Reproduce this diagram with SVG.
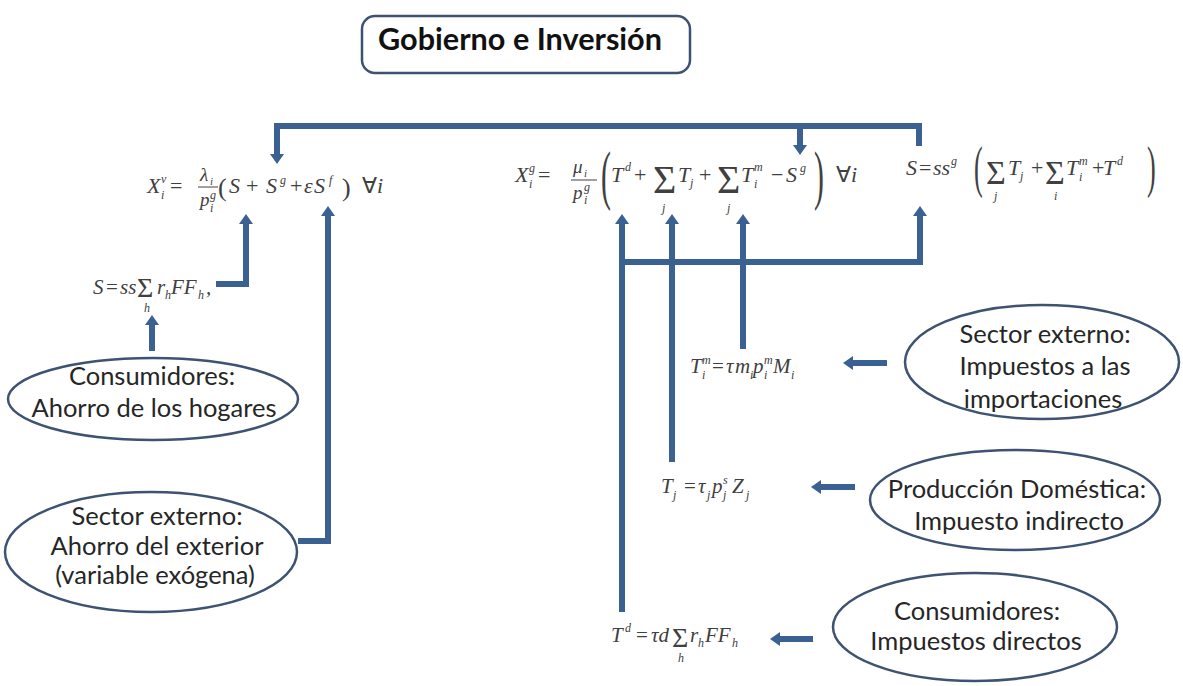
<svg xmlns="http://www.w3.org/2000/svg" width="1183" height="686" viewBox="0 0 1183 686">
<defs>
<style>
.lbl{font-family:Lato,"Liberation Sans",sans-serif;font-size:25.5px;fill:#262626;text-anchor:middle}
.ttl{font-family:Lato,"Liberation Sans",sans-serif;font-size:30px;font-weight:700;fill:#111;text-anchor:middle}
.box{fill:#fff;stroke:#3e5272;stroke-width:2.5}
.ell{fill:#fff;stroke:#3e5272;stroke-width:2.5}
.m{font-family:"Liberation Serif",serif;font-style:italic;font-size:22px;fill:#404040}
.u{font-family:"Liberation Serif",serif;font-size:22px;fill:#404040}
.f21 .m,.f21 .u{font-size:21px}
.m.s,.u.s{font-size:12px}
.m.n{font-size:19px}
.m.t{font-size:11px}
.sg{font-size:40px !important}
.sm{font-size:34px !important}
.sh{font-size:28px !important}
.pb{font-size:66px !important}
.pm{font-size:58px !important}
.p24{font-size:26px !important}
.c{fill:none;stroke:#3a6192;stroke-width:6}
.bar{stroke:#404040;stroke-width:1}
</style>
<marker id="ah" markerUnits="userSpaceOnUse" markerWidth="10" markerHeight="14" viewBox="0 0 10 14" refX="1" refY="7" orient="auto"><path d="M0,0 L10,7 L0,14 z" fill="#3a6192"/></marker>
</defs>
<rect width="1183" height="686" fill="#fff"/>

<g id="connectors">
<path class="c" d="M919,146 V126 H277 V155" marker-end="url(#ah)"/>
<path class="c" d="M800,126 V146" marker-end="url(#ah)"/>
<path class="c" d="M622,612 V223" marker-end="url(#ah)"/>
<path class="c" d="M622,262 H920 V215" marker-end="url(#ah)"/>
<path class="c" d="M672,462 V223" marker-end="url(#ah)"/>
<path class="c" d="M743,349 V223" marker-end="url(#ah)"/>
<path class="c" d="M216,284 H246 V223" marker-end="url(#ah)"/>
<path class="c" d="M298,541 H328 V215" marker-end="url(#ah)"/>
<path class="c" d="M152,351 V324" marker-end="url(#ah)"/>
<path class="c" d="M887,363 H852" marker-end="url(#ah)"/>
<path class="c" d="M855,487 H820" marker-end="url(#ah)"/>
<path class="c" d="M813,639 H779" marker-end="url(#ah)"/>
</g>

<g id="title">
<rect class="box" x="362" y="16" width="328" height="57" rx="13"/>
<text class="ttl" x="520" y="50" textLength="284" lengthAdjust="spacingAndGlyphs">Gobierno e Inversión</text>
</g>

<g id="f1">
<text class="m" x="147" y="193">X</text>
<text class="m s" x="161" y="183">v</text>
<text class="m s" x="161" y="199">i</text>
<text class="u" x="170" y="193">=</text>
<text class="m n" x="200" y="181">λ</text>
<text class="m t" x="210" y="185">i</text>
<line class="bar" x1="198" y1="187" x2="218" y2="187"/>
<text class="m n" x="200" y="206">p</text>
<text class="m s" x="210" y="199">g</text>
<text class="m s" x="210" y="212">i</text>
<text class="u p24" x="218" y="196">(</text>
<text class="m" x="229" y="193">S</text>
<text class="u" x="246" y="193">+</text>
<text class="m" x="266" y="193">S</text>
<text class="m s" x="280" y="184">g</text>
<text class="u" x="290" y="193">+</text>
<text class="m" x="304" y="193">ε</text>
<text class="m" x="314" y="193">S</text>
<text class="m s" x="329" y="184">f</text>
<text class="u p24" x="342" y="196">)</text>
<text class="u" x="362" y="193">∀</text>
<text class="m" x="377" y="193">i</text>
</g>

<g id="f2">
<text class="m" x="515" y="182">X</text>
<text class="m s" x="529" y="172">g</text>
<text class="m s" x="529" y="188">i</text>
<text class="u" x="538" y="182">=</text>
<text class="m n" x="573" y="173">μ</text>
<text class="m t" x="584" y="177">i</text>
<line class="bar" x1="571" y1="180" x2="597" y2="180"/>
<text class="m n" x="573" y="199">p</text>
<text class="m s" x="584" y="191">g</text>
<text class="m s" x="584" y="204">i</text>
<text class="u pb" transform="translate(601,197) scale(0.45,1)">(</text>
<text class="m" x="611" y="182">T</text>
<text class="m s" x="625" y="171">d</text>
<text class="u" x="634" y="182">+</text>
<text class="u sg" x="653" y="193">Σ</text>
<text class="m s" x="662" y="212">j</text>
<text class="m" x="678" y="182">T</text>
<text class="m s" x="690" y="187">j</text>
<text class="u" x="699" y="182">+</text>
<text class="u sg" x="717" y="193">Σ</text>
<text class="m s" x="727" y="212">j</text>
<text class="m" x="741" y="182">T</text>
<text class="m s" x="754" y="171">m</text>
<text class="m s" x="754" y="188">i</text>
<text class="u" x="771" y="182">−</text>
<text class="m" x="786" y="182">S</text>
<text class="m s" x="800" y="172">g</text>
<text class="u pb" transform="translate(814,197) scale(0.45,1)">)</text>
<text class="u" x="836" y="182">∀</text>
<text class="m" x="851" y="182">i</text>
</g>

<g id="f3">
<text class="m" x="906" y="175">S</text>
<text class="u" x="919" y="175">=</text>
<text class="m" x="933" y="175">ss</text>
<text class="m s" x="951" y="165">g</text>
<text class="u pm" transform="translate(974,186) scale(0.45,1)">(</text>
<text class="u sm" x="986" y="184">Σ</text>
<text class="m s" x="994" y="200">j</text>
<text class="m" x="1008" y="175">T</text>
<text class="m s" x="1020" y="180">j</text>
<text class="u" x="1031" y="175">+</text>
<text class="u sm" x="1045" y="184">Σ</text>
<text class="m s" x="1054" y="200">i</text>
<text class="m" x="1066" y="175">T</text>
<text class="m s" x="1079" y="165">m</text>
<text class="m s" x="1079" y="181">i</text>
<text class="u" x="1092" y="175">+</text>
<text class="m" x="1103" y="175">T</text>
<text class="m s" x="1117" y="165">d</text>
<text class="u pm" transform="translate(1147,186) scale(0.45,1)">)</text>
</g>

<g id="f4" class="f21">
<text class="m" x="93" y="294">S</text>
<text class="u" x="106" y="294">=</text>
<text class="m" x="120" y="294">ss</text>
<text class="u sh" x="137" y="297">Σ</text>
<text class="m s" x="144" y="312">h</text>
<text class="m" x="157" y="294">r</text>
<text class="m s" x="165" y="299">h</text>
<text class="m" x="171" y="294">FF</text>
<text class="m s" x="198" y="299">h</text>
<text class="m" x="206" y="294">,</text>
</g>

<g id="f5" class="f21">
<text class="m" x="690" y="373">T</text>
<text class="m s" x="702" y="364">m</text>
<text class="m s" x="702" y="379">i</text>
<text class="u" x="712" y="373">=</text>
<text class="m" x="726" y="373">τ</text>
<text class="m" x="735" y="373">m</text>
<text class="m s" x="750" y="379">i</text>
<text class="m" x="753" y="373">p</text>
<text class="m s" x="764" y="364">m</text>
<text class="m s" x="764" y="379">i</text>
<text class="m" x="773" y="373">M</text>
<text class="m s" x="791" y="379">i</text>
</g>

<g id="f6" class="f21">
<text class="m" x="661" y="493">T</text>
<text class="m s" x="673" y="499">j</text>
<text class="u" x="684" y="493">=</text>
<text class="m" x="698" y="493">τ</text>
<text class="m s" x="707" y="499">j</text>
<text class="m" x="712" y="493">p</text>
<text class="m s" x="723" y="484">s</text>
<text class="m s" x="723" y="499">j</text>
<text class="m" x="732" y="493">Z</text>
<text class="m s" x="746" y="499">j</text>
</g>

<g id="f7" class="f21">
<text class="m" x="611" y="642">T</text>
<text class="m s" x="625" y="632">d</text>
<text class="u" x="636" y="642">=</text>
<text class="m" x="651" y="642">τd</text>
<text class="u sh" x="672" y="647">Σ</text>
<text class="m s" x="678" y="662">h</text>
<text class="m" x="690" y="642">r</text>
<text class="m s" x="698" y="647">h</text>
<text class="m" x="705" y="642">FF</text>
<text class="m s" x="732" y="647">h</text>
</g>

<g id="n-consumidores-ahorro">
<ellipse class="ell" cx="153" cy="399" rx="145" ry="41"/>
<text class="lbl" x="152" y="385">Consumidores:</text>
<text class="lbl" x="154" y="417">Ahorro de los hogares</text>
</g>

<g id="n-sector-ahorro">
<ellipse class="ell" cx="151" cy="552" rx="146" ry="60"/>
<text class="lbl" x="157" y="525">Sector externo:</text>
<text class="lbl" x="157" y="555">Ahorro del exterior</text>
<text class="lbl" x="155" y="584">(variable exógena)</text>
</g>

<g id="n-sector-impuestos">
<ellipse class="ell" cx="1042" cy="362" rx="137" ry="57"/>
<text class="lbl" x="1045" y="343">Sector externo:</text>
<text class="lbl" x="1045" y="375">Impuestos a las</text>
<text class="lbl" x="1043" y="408">importaciones</text>
</g>

<g id="n-produccion">
<ellipse class="ell" cx="1015" cy="500" rx="145" ry="50"/>
<text class="lbl" x="1017" y="498">Producción Doméstica:</text>
<text class="lbl" x="1019" y="530">Impuesto indirecto</text>
</g>

<g id="n-consumidores-impuestos">
<ellipse class="ell" cx="975" cy="627" rx="142" ry="54"/>
<text class="lbl" x="977" y="620">Consumidores:</text>
<text class="lbl" x="976" y="650">Impuestos directos</text>
</g>
</svg>
